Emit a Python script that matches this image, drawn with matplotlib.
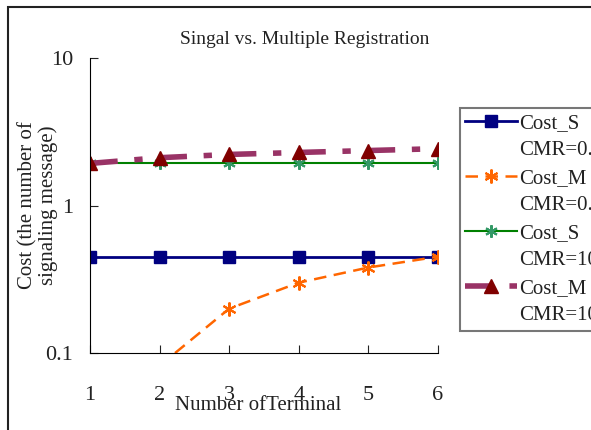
import numpy as np
from matplotlib import pyplot as plt
from matplotlib.lines import Line2D
from matplotlib.patches import Rectangle

terminals = [1, 2, 3, 4, 5, 6]
cost_s_01 = [0.45, 0.45, 0.45, 0.45, 0.45, 0.45]
cost_m_01 = [np.nan, 0.082, 0.20, 0.30, 0.38, 0.45]
cost_s_10 = [1.93, 1.93, 1.93, 1.93, 1.93, 1.93]
cost_m_10 = [1.93, 2.11, 2.22, 2.29, 2.36, 2.43]
series_names = ['Cost_S', 'Cost_M', 'Cost_S', 'Cost_M']
cmr_labels = ['CMR=0.1', 'CMR=0.1', 'CMR=10', 'CMR=10']

plt.rcParams['font.family'] = ['Liberation Serif', 'DejaVu Serif']

fig = plt.figure(figsize=(5.91, 4.30), dpi=100)
ax = fig.add_axes([0.1523, 0.179, 0.5887, 0.686])

l1, = ax.plot(terminals, cost_s_01, color='#000080', lw=2, marker='s', ms=9)
l2, = ax.plot(terminals, cost_m_01, color='#FF6600', lw=1.8, ls=(0, (5, 3)),
              marker=(6, 2, 0), ms=10, mew=1.5)
l3, = ax.plot(terminals, cost_s_10, color='#008000', lw=1.5, marker=(6, 2, 0),
              ms=9, mec='#339966', mew=1.5)
l4, = ax.plot(terminals, cost_m_10, color='#993366', lw=4,
              ls=(0, (5, 3, 1.5, 3)), marker='^', ms=10,
              mfc='#800000', mec='#800000')

ax.set_yscale('log')
ax.set_ylim(0.1, 10)
ax.set_xlim(1, 6)
ax.set_xticks(terminals)
ax.set_yticks([0.1, 1, 10])
ax.set_yticklabels(['0.1', '1', '10'])
ax.minorticks_off()
ax.tick_params(axis='both', direction='in', length=6, labelsize=16,
               colors='#222222')
ax.tick_params(axis='x', pad=24)
ax.tick_params(axis='y', pad=12)
ax.spines['top'].set_visible(False)
ax.spines['right'].set_visible(False)

fig.text(258 / 591, 1 - 406 / 430, 'Number ofTerminal', fontsize=15,
         ha='center', va='center', color='#222222')
fig.text(38 / 591, 1 - 205 / 430, 'Cost (the number of\nsignaling message)',
         fontsize=15, rotation=90, ha='center', va='center',
         linespacing=1.0, color='#222222')
fig.text(305 / 591, 1 - 40 / 430, 'Singal vs. Multiple Registration',
         fontsize=14, ha='center', va='center', color='#222222')

blank = Line2D([], [], color='none')
handles = []
texts = []
for line, name, cmr in zip([l1, l2, l3, l4], series_names, cmr_labels):
    handles += [line, blank]
    texts += [name, cmr]
leg = ax.legend(handles, texts, loc='upper left',
                bbox_to_anchor=(460 / 591, 1 - 108 / 430),
                bbox_transform=fig.transFigure, frameon=True, fancybox=False,
                edgecolor='#555555', fontsize=15, handlelength=2.5,
                labelspacing=0.38, borderpad=0.25, handletextpad=0.1,
                borderaxespad=0)
leg.get_frame().set_linewidth(1.5)
for t in leg.get_texts():
    t.set_color('#222222')

fig.patches.append(Rectangle((0.014, -0.1), 1.2, 1.083,
                             transform=fig.transFigure, fill=False,
                             edgecolor='#222222', lw=1.5))

fig.savefig('out.png', dpi=100)
